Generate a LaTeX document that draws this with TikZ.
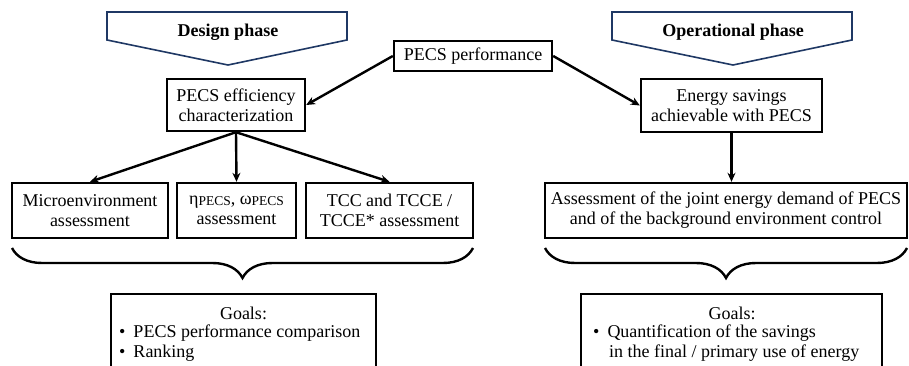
\documentclass[tikz,border=0pt]{standalone}
\usepackage{fontspec}
\setmainfont{Liberation Serif}
\usetikzlibrary{arrows.meta,decorations.pathreplacing}
\definecolor{navy}{HTML}{1F3864}
\begin{document}
\begin{tikzpicture}[x={(1pt,0)},y={(0,-1pt)},
  box/.style={draw=black,line width=2.4pt,align=center,inner sep=0pt,
    font=\fontsize{18}{20}\selectfont},
  txt/.style={inner sep=0pt,font=\fontsize{18}{20}\selectfont},
  arr/.style={line width=2.4pt,-{Stealth[length=9pt,width=8pt]}},
  phase/.style={draw=navy,line width=1.6pt,fill=white},
  brc/.style={decorate,decoration={brace,amplitude=30pt},line width=2.4pt}]
\useasboundingbox (0,0) rectangle (909,366);
% phase pentagons
\draw[phase] (107,12)--(347,12)--(347,40)--(228,65)--(107,40)--cycle;
\node[txt,font=\fontsize{18}{20}\selectfont\bfseries] (dp) at (228,32) {Design phase};
\draw[phase] (612,12)--(852,12)--(852,40)--(733,65)--(612,40)--cycle;
\node[txt,font=\fontsize{18}{20}\selectfont\bfseries] (op) at (733,32) {Operational phase};
% boxes
\node[box,minimum width=158pt,minimum height=30pt] (perf) at (473,56) {PECS performance};
\node[box,minimum width=138pt,minimum height=52pt] (eff) at (236,105) {PECS efficiency\\characterization};
\node[box,minimum width=181pt,minimum height=53pt] (energy) at (731.5,105.5) {Energy savings\\achievable with PECS};
\node[box,minimum width=156pt,minimum height=55pt] (micro) at (90,210.5) {Microenvironment\\assessment};
\node[box,minimum width=119pt,minimum height=55pt] (eta) at (236.5,210.5)
  {η\raisebox{-1pt}{\fontsize{13.5}{13.5}\selectfont PECS}, ω\raisebox{-1pt}{\fontsize{13.5}{13.5}\selectfont PECS}\\assessment};
\node[box,minimum width=167pt,minimum height=55pt] (tcc) at (389.5,210.5) {TCC and TCCE /\\TCCE* assessment};
\node[box,minimum width=362pt,minimum height=55pt] (assess) at (726,210.5) {Assessment of the joint energy demand of PECS\\and of the background environment control};
% arrows
\draw[arr] (perf.west) -- (eff.east);
\draw[arr] (perf.east) -- (energy.west);
\draw[arr] (eff.south) -- (micro.north);
\draw[arr] (eff.south) -- (eta.north);
\draw[arr] (eff.south) -- (tcc.north);
\draw[arr] (energy.south) -- (energy.south |- assess.north);
% braces
\coordinate (bl1) at (12,248); \coordinate (bl2) at (473,248);
\coordinate (br1) at (545,248); \coordinate (br2) at (907,248);
\draw[brc] (bl2) -- (bl1);
\draw[brc] (br2) -- (br1);
% goals boxes
\node[draw=black,line width=2.4pt,minimum width=265pt,minimum height=100pt,anchor=north,inner sep=0pt] (gl) at (243.5,293) {};
\node[txt] (glt) at (243.5,313) {Goals:};
\node[txt,anchor=west] (gl1) at (119,333) {•\hspace{8pt}PECS performance comparison};
\node[txt,anchor=west] (gl2) at (119,353) {•\hspace{8pt}Ranking};
\node[draw=black,line width=2.4pt,minimum width=301pt,minimum height=100pt,anchor=north,inner sep=0pt] (gr) at (731.5,293) {};
\node[txt] (grt) at (732,313) {Goals:};
\node[txt,anchor=west] (gr1) at (593,333) {•\hspace{8pt}Quantification of the savings};
\node[txt,anchor=west] (gr2) at (609,353) {in the final / primary use of energy};
\end{tikzpicture}
\end{document}
